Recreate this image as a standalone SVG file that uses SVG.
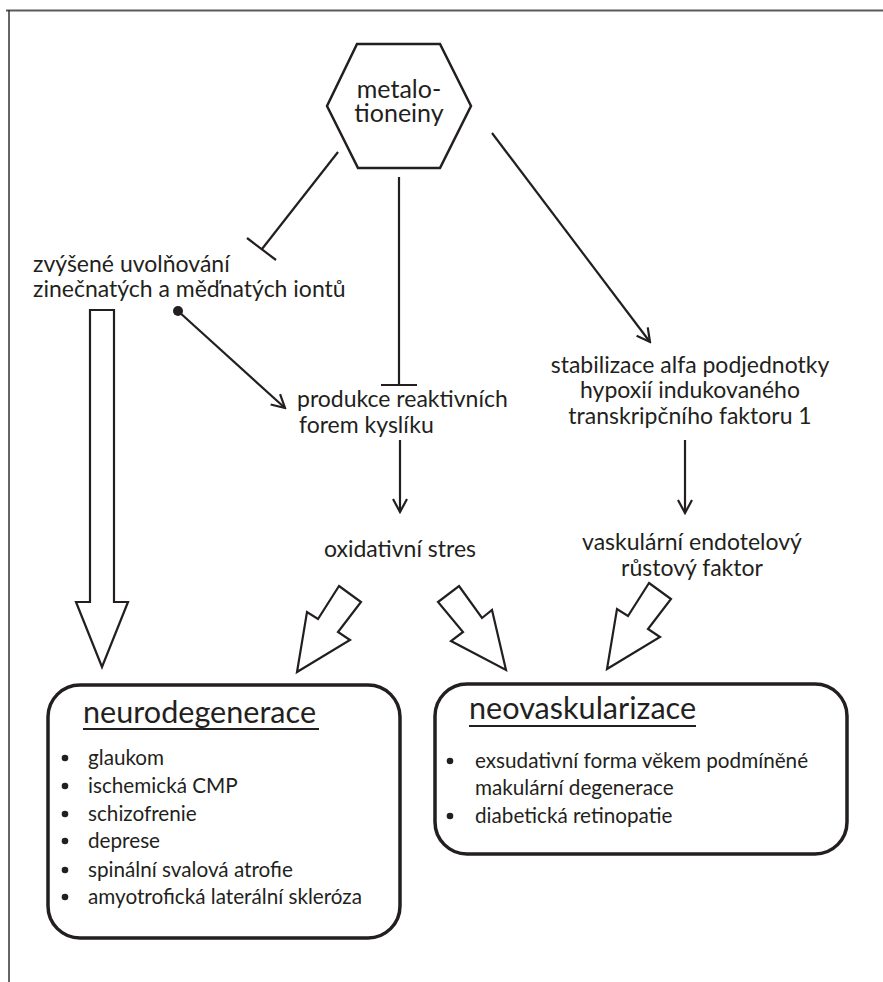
<svg xmlns="http://www.w3.org/2000/svg" width="883" height="982" viewBox="0 0 883 982">
<defs>
<style>
.t{font-family:Lato,"Liberation Sans",sans-serif;font-size:23px;fill:#231f20}
.h{font-family:Lato,"Liberation Sans",sans-serif;font-size:25px;fill:#231f20}
.ti{font-family:Lato,"Liberation Sans",sans-serif;font-size:30.6px;fill:#231f20}
.li{font-family:Lato,"Liberation Sans",sans-serif;font-size:20.7px;fill:#231f20}
.ln{stroke:#231f20;stroke-width:2.2;fill:none}
.big{stroke:#231f20;stroke-width:2.2;fill:#fff;stroke-linejoin:miter}
.box{stroke:#231f20;stroke-width:3.5;fill:#fff}
.ul{stroke:#231f20;stroke-width:2}
</style>
<marker id="ah" markerUnits="userSpaceOnUse" viewBox="0 0 16 16" refX="14" refY="8" markerWidth="16" markerHeight="16" orient="auto">
<path d="M1,1 L14,8 L1,15" fill="none" stroke="#231f20" stroke-width="2.2"/>
</marker>
</defs>
<rect width="883" height="982" fill="#fff"/>
<g id="frame">
<line x1="6" y1="10.5" x2="883" y2="10.5" stroke="#5a5a5a" stroke-width="2"/>
<line x1="9" y1="10" x2="9" y2="982" stroke="#333" stroke-width="1.5"/>
</g>
<g id="connectors">
<line class="ln" x1="338" y1="152" x2="262" y2="249"/>
<line class="ln" x1="247" y1="238" x2="276" y2="260"/>
<line class="ln" x1="399" y1="177" x2="399" y2="385"/>
<line class="ln" x1="381" y1="385" x2="417" y2="385"/>
<line class="ln" x1="492" y1="133" x2="650" y2="342" marker-end="url(#ah)"/>
<circle cx="178" cy="311" r="5" fill="#231f20"/>
<line class="ln" x1="178" y1="311" x2="285" y2="408" marker-end="url(#ah)"/>
<line class="ln" x1="400" y1="440" x2="400" y2="512" marker-end="url(#ah)"/>
<line class="ln" x1="685" y1="440" x2="685" y2="513" marker-end="url(#ah)"/>
<polygon class="big" points="90,310 114,310 114,602 128,602 102,667 76,602 90,602"/>
<polygon class="big" points="339,586 361,602 338,632 350,640 297,672 307,612 318,619"/>
<polygon class="big" points="459,586 482,618 492,610 506,670 451,641 463,632 438,602"/>
<polygon class="big" points="649,583 671,599 648,629 660,637 607,669 617,609 628,616"/>
</g>
<g id="metalotioneiny">
<polygon points="357,44 440,44 471,106 440,168 358,168 327,106" fill="#fff" stroke="#231f20" stroke-width="2.5"/>
<text class="h" x="399" y="98" text-anchor="middle">metalo-</text>
<text class="h" x="399" y="122" text-anchor="middle">tioneiny</text>
</g>
<g id="uvolnovani">
<text class="t" x="33" y="272">zvýšené uvolňování</text>
<text class="t" x="33" y="297">zinečnatých a měďnatých iontů</text>
</g>
<g id="produkce">
<text class="t" x="297" y="407">produkce reaktivních</text>
<text class="t" x="299" y="433">forem kyslíku</text>
</g>
<g id="stabilizace">
<text class="t" x="690" y="373" text-anchor="middle">stabilizace alfa podjednotky</text>
<text class="t" x="690" y="398" text-anchor="middle">hypoxií indukovaného</text>
<text class="t" x="690" y="424" text-anchor="middle">transkripčního faktoru 1</text>
</g>
<g id="oxidativni">
<text class="t" x="400" y="557" text-anchor="middle">oxidativní stres</text>
</g>
<g id="vaskularni">
<text class="t" x="692" y="550" text-anchor="middle">vaskulární endotelový</text>
<text class="t" x="692" y="576" text-anchor="middle">růstový faktor</text>
</g>
<g id="neurodegenerace">
<rect class="box" x="48" y="685" width="352" height="253" rx="32" ry="32"/>
<text class="ti" x="83" y="723">neurodegenerace</text>
<line class="ul" x1="83" y1="729" x2="319" y2="729"/>
<g fill="#231f20">
<circle cx="65" cy="758" r="3.3"/>
<circle cx="65" cy="786" r="3.3"/>
<circle cx="65" cy="814" r="3.3"/>
<circle cx="65" cy="841" r="3.3"/>
<circle cx="65" cy="870" r="3.3"/>
<circle cx="65" cy="897" r="3.3"/>
</g>
<text class="li" x="88" y="765">glaukom</text>
<text class="li" x="88" y="793">ischemická CMP</text>
<text class="li" x="88" y="821">schizofrenie</text>
<text class="li" x="88" y="848">deprese</text>
<text class="li" x="88" y="877">spinální svalová atrofie</text>
<text class="li" x="88" y="904">amyotrofická laterální skleróza</text>
</g>
<g id="neovaskularizace">
<rect class="box" x="435" y="684" width="412" height="170" rx="32" ry="32"/>
<text class="ti" x="469" y="719">neovaskularizace</text>
<line class="ul" x1="469" y1="726" x2="696" y2="726"/>
<g fill="#231f20">
<circle cx="450" cy="761" r="3.3"/>
<circle cx="450" cy="816" r="3.3"/>
</g>
<text class="li" x="475" y="768">exsudativní forma věkem podmíněné</text>
<text class="li" x="475" y="795">makulární degenerace</text>
<text class="li" x="475" y="823">diabetická retinopatie</text>
</g>
</svg>
